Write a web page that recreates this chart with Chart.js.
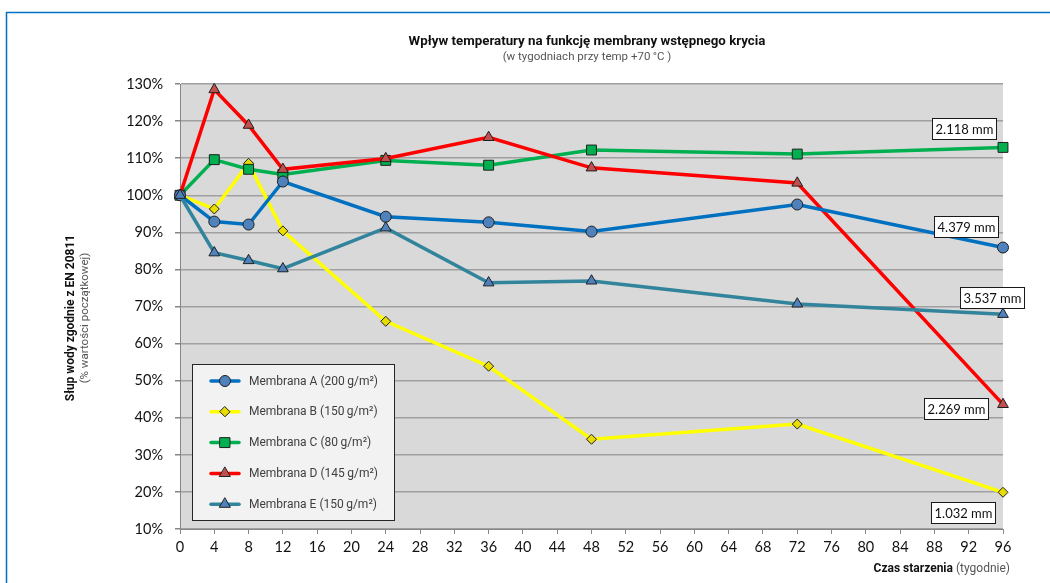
<!DOCTYPE html>
<html>
<head>
<meta charset="utf-8">
<script src="https://cdn.jsdelivr.net/npm/chart.js@4"></script>
<style>
  html, body { margin: 0; padding: 0; background: #ffffff; }
  #wrap { width: 1050px; height: 583px; }
</style>
</head>
<body>
<div id="wrap"><canvas id="c" width="1050" height="583"></canvas></div>
<script>
// Aging time in weeks
const weeks = [0, 4, 8, 12, 24, 36, 48, 72, 96];

// Water column relative to the initial value (%)
const membranaA = [100, 92.9, 92.1, 103.7, 94.2, 92.7, 90.2, 97.5, 85.9];
const membranaB = [100, 96.3, 108.6, 90.4, 66.0, 53.9, 34.2, 38.3, 19.9];
const membranaC = [100, 109.6, 107.0, 105.6, 109.4, 108.1, 112.2, 111.1, 112.9];
const membranaD = [100, 128.5, 118.9, 107.0, 109.9, 115.6, 107.4, 103.3, 43.6];
const membranaE = [100, 84.5, 82.4, 80.2, 91.2, 76.4, 76.9, 70.7, 67.9];

const seriesNames = [
  'Membrana A (200\u2009g/m²)',
  'Membrana B (150\u2009g/m²)',
  'Membrana C (80\u2009g/m²)',
  'Membrana D (145\u2009g/m²)',
  'Membrana E (150\u2009g/m²)'
];

// Final absolute water column per membrane (mm)
const finalLabels = ['4.379 mm', '1.032 mm', '2.118 mm', '2.269 mm', '3.537 mm'];

const yTicks = { min: 10, max: 130, step: 10 };
const xTicks = { min: 0, max: 96, step: 4 };

const styles = [
  { line: '#0070c0', fill: '#4f81bd', point: 'circle',   radius: 5.5 },
  { line: '#ffff00', fill: '#e8dc00', point: 'rectRot',  radius: 5 },
  { line: '#00b050', fill: '#00b050', point: 'rect',     radius: 7 },
  { line: '#ff0000', fill: '#c0504d', point: 'triangle', radius: 6.2 },
  { line: '#31849b', fill: '#4f81bd', point: 'triangle', radius: 6.2 }
];
// label box centre offsets from the final point (px)
const labelOffsets = [[-37, -21], [-40, 20], [-39, -19], [-47, 4], [-11, -17]];

const allSeries = [membranaA, membranaB, membranaC, membranaD, membranaE];
const drawOrder = [2, 5, 4, 3, 1];

const datasets = allSeries.map((vals, i) => ({
  label: seriesNames[i],
  data: weeks.map((w, k) => ({ x: w, y: vals[k] })),
  borderColor: styles[i].line,
  backgroundColor: styles[i].fill,
  borderWidth: 3.5,
  pointStyle: styles[i].point,
  pointRadius: styles[i].radius,
  pointHoverRadius: styles[i].radius,
  pointBackgroundColor: styles[i].fill,
  pointBorderColor: '#1f1f1f',
  pointBorderWidth: 1,
  tension: 0,
  fill: false,
  clip: false,
  order: drawOrder[i]
}));

// legend marker shapes
function drawMarker(ctx, style, r, x, y) {
  if (style === 'circle') {
    ctx.arc(x, y, r, 0, Math.PI * 2);
  } else if (style === 'rect') {
    const s = r * Math.SQRT1_2;
    ctx.rect(x - s, y - s, 2 * s, 2 * s);
  } else if (style === 'rectRot') {
    ctx.moveTo(x, y - r); ctx.lineTo(x + r, y); ctx.lineTo(x, y + r); ctx.lineTo(x - r, y); ctx.closePath();
  } else {
    ctx.moveTo(x, y - r);
    ctx.lineTo(x + r * 0.866, y + r * 0.5);
    ctx.lineTo(x - r * 0.866, y + r * 0.5);
    ctx.closePath();
  }
}

const decor = {
  id: 'decor',
  beforeDraw(chart) {
    const { ctx, chartArea: a } = chart;
    ctx.save();
    ctx.fillStyle = '#ffffff';
    ctx.fillRect(0, 0, chart.width, chart.height);
    // outer frame
    ctx.strokeStyle = '#0070c0';
    ctx.lineWidth = 1.5;
    ctx.strokeRect(6.5, 12.5, 1200, 800);
    // plot background
    ctx.fillStyle = '#d9d9d9';
    ctx.fillRect(a.left, a.top, a.right - a.left, a.bottom - a.top);
    ctx.restore();
  },
  afterDraw(chart) {
    const { ctx } = chart;
    ctx.save();
    // titles
    ctx.textAlign = 'center';
    ctx.textBaseline = 'middle';
    ctx.fillStyle = '#111111';
    ctx.font = 'bold 13.3px Roboto';
    ctx.fillText('Wpływ temperatury na funkcję membrany wstępnego krycia', 587, 42);
    ctx.fillStyle = '#555555';
    ctx.font = '11.5px Roboto';
    ctx.fillText('(w tygodniach przy temp +70\u2009°C )', 587, 57);

    // y axis title
    ctx.save();
    ctx.translate(71, 318);
    ctx.rotate(-Math.PI / 2);
    ctx.fillStyle = '#111111';
    ctx.font = 'bold 12px Roboto';
    ctx.fillText('Słup wody zgodnie z EN 20811', 0, 0);
    ctx.fillStyle = '#555555';
    ctx.font = '11.5px Roboto';
    ctx.fillText('(% wartości początkowej)', 0, 14);
    ctx.restore();

    // x axis title
    ctx.textAlign = 'right';
    ctx.fillStyle = '#555555';
    ctx.font = '12px Roboto';
    const tail = ' (tygodnie)';
    ctx.fillText(tail, 1010, 569);
    const tw = ctx.measureText(tail).width;
    ctx.fillStyle = '#111111';
    ctx.font = 'bold 12px Roboto';
    ctx.fillText('Czas starzenia', 1010 - tw, 569);

    // legend
    const lx = 192, ly = 364, lw = 202, lh = 156;
    ctx.fillStyle = '#f2f2f2';
    ctx.fillRect(lx, ly, lw, lh);
    ctx.strokeStyle = '#262626';
    ctx.lineWidth = 1;
    ctx.strokeRect(lx + 0.5, ly + 0.5, lw, lh);
    chart.data.datasets.forEach((ds, i) => {
      const y = 381 + i * 30.8;
      ctx.strokeStyle = ds.borderColor;
      ctx.lineWidth = 3.5;
      ctx.lineCap = 'round';
      ctx.beginPath();
      ctx.moveTo(211, y);
      ctx.lineTo(239, y);
      ctx.stroke();
      ctx.fillStyle = ds.pointBackgroundColor;
      ctx.strokeStyle = '#1f1f1f';
      ctx.lineWidth = 1;
      ctx.beginPath();
      drawMarker(ctx, ds.pointStyle, ds.pointRadius, 225, y);
      ctx.fill();
      ctx.stroke();
      ctx.fillStyle = '#404040';
      ctx.font = '12px Roboto';
      ctx.textAlign = 'left';
      ctx.textBaseline = 'middle';
      ctx.fillText(ds.label, 249, y + 0.5);
    });

    // final value labels
    ctx.font = '13px Lato';
    ctx.textAlign = 'center';
    ctx.textBaseline = 'middle';
    chart.data.datasets.forEach((ds, i) => {
      const meta = chart.getDatasetMeta(i);
      const pt = meta.data[meta.data.length - 1];
      const cx = pt.x + labelOffsets[i][0];
      const cy = pt.y + labelOffsets[i][1];
      const w = 64, h = 21;
      const bx = Math.round(cx - w / 2) + 0.5, by = Math.round(cy - h / 2) + 0.5;
      ctx.fillStyle = '#ffffff';
      ctx.fillRect(bx, by, w, h);
      ctx.strokeStyle = '#1a1a1a';
      ctx.lineWidth = 1;
      ctx.strokeRect(bx, by, w, h);
      ctx.fillStyle = '#111111';
      ctx.fillText(finalLabels[i], bx + w / 2, by + h / 2 + 0.5);
    });
    ctx.restore();
  }
};

new Chart(document.getElementById('c'), {
  type: 'line',
  data: { datasets },
  plugins: [decor],
  options: {
    responsive: false,
    animation: false,
    events: [],
    layout: { padding: { top: 84, right: 47, bottom: 0, left: 0 } },
    plugins: {
      legend: { display: false },
      title: { display: false },
      tooltip: { enabled: false }
    },
    scales: {
      x: {
        type: 'linear',
        min: xTicks.min,
        max: xTicks.max,
        afterFit(s) { s.height = 54; },
        ticks: {
          stepSize: xTicks.step,
          color: '#111111',
          font: { family: 'Lato', size: 14.5 },
          padding: 5,
          maxRotation: 0,
          autoSkip: false
        },
        grid: {
          drawOnChartArea: false,
          drawTicks: true,
          tickLength: 5,
          color: '#868686',
          lineWidth: 1
        },
        border: { display: true, color: '#868686', width: 1 }
      },
      y: {
        min: yTicks.min,
        max: yTicks.max,
        afterFit(s) { s.width = 180; },
        ticks: {
          stepSize: yTicks.step,
          color: '#111111',
          font: { family: 'Lato', size: 14.5 },
          padding: 12,
          callback: v => v + '%'
        },
        grid: {
          color: '#a0a0a0',
          lineWidth: 1.5,
          tickLength: 5,
          tickColor: '#868686'
        },
        border: { display: true, color: '#868686', width: 1 }
      }
    }
  }
});
</script>
</body>
</html>
